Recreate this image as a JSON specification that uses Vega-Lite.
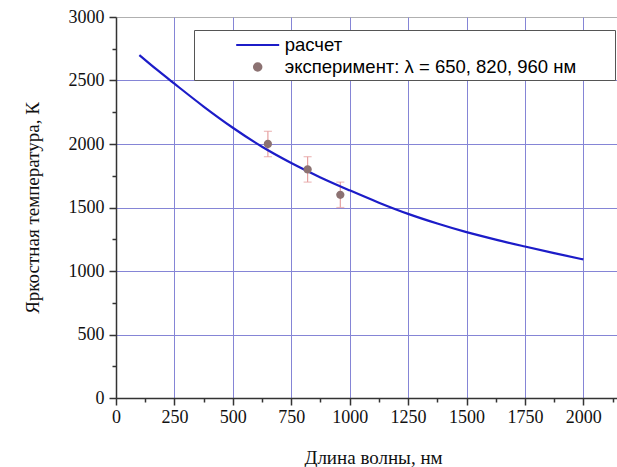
{
  "$schema": "https://vega.github.io/schema/vega-lite/v6.json",
  "width": 501,
  "height": 381,
  "autosize": "none",
  "padding": {"left": 116, "top": 17, "right": 0, "bottom": 69},
  "background": "white",
  "config": {
    "view": {"stroke": "#b0b0b0", "strokeWidth": 1},
    "legend": {
      "padding": 3, "rowPadding": 0, "symbolSize": 462, "symbolOffset": 48.7, "labelOffset": 15,
      "symbolStrokeWidth": 1.5,
      "labelFont": "Liberation Sans", "labelFontSize": 18.5, "labelColor": "#000000", "labelLimit": 0,
      "fillColor": "white", "strokeColor": "#555555",
      "titleOrient": "right", "titlePadding": 35, "titleFontSize": 2, "titleOpacity": 0
    }
  },
  "resolve": {"axis": {"x": "independent", "y": "independent"}},
  "datasets": {
    "curve": [
      {"series": "расчет", "lambda": 100, "T": 2700},
      {"series": "расчет", "lambda": 175, "T": 2585},
      {"series": "расчет", "lambda": 250, "T": 2475},
      {"series": "расчет", "lambda": 375, "T": 2295},
      {"series": "расчет", "lambda": 500, "T": 2128},
      {"series": "расчет", "lambda": 625, "T": 1978},
      {"series": "расчет", "lambda": 750, "T": 1850},
      {"series": "расчет", "lambda": 875, "T": 1737},
      {"series": "расчет", "lambda": 1000, "T": 1635},
      {"series": "расчет", "lambda": 1125, "T": 1538},
      {"series": "расчет", "lambda": 1250, "T": 1450},
      {"series": "расчет", "lambda": 1375, "T": 1374},
      {"series": "расчет", "lambda": 1500, "T": 1306},
      {"series": "расчет", "lambda": 1625, "T": 1247},
      {"series": "расчет", "lambda": 1750, "T": 1193},
      {"series": "расчет", "lambda": 1875, "T": 1141},
      {"series": "расчет", "lambda": 2000, "T": 1091}
    ],
    "exp": [
      {"series": "эксперимент: λ = 650, 820, 960 нм", "lambda": 650, "T": 2000, "lo": 1900, "hi": 2100},
      {"series": "эксперимент: λ = 650, 820, 960 нм", "lambda": 820, "T": 1800, "lo": 1700, "hi": 1900},
      {"series": "эксперимент: λ = 650, 820, 960 нм", "lambda": 960, "T": 1600, "lo": 1500, "hi": 1700}
    ]
  },
  "layer": [
    {
      "data": {"name": "exp"},
      "mark": {"type": "errorbar", "color": "#e6a0a0", "thickness": 1.2, "ticks": {"size": 8, "thickness": 1.2}},
      "encoding": {
        "x": {
          "field": "lambda", "type": "quantitative",
          "scale": {"domain": [0, 2144], "nice": false, "zero": false},
          "axis": {
            "orient": "bottom", "title": null,
            "values": [250,500,750,1000,1250,1500,1750,2000],
            "grid": true, "gridColor": "#8585d6", "gridWidth": 1,
            "ticks": false, "labels": false, "domain": false
          }
        },
        "y": {
          "field": "lo", "type": "quantitative",
          "scale": {"domain": [0, 3000], "nice": false},
          "axis": {
            "orient": "left", "title": null,
            "values": [500,1000,1500,2000,2500],
            "grid": true, "gridColor": "#8585d6", "gridWidth": 1,
            "ticks": false, "labels": false, "domain": false
          }
        },
        "y2": {"field": "hi"}
      }
    },
    {
      "data": {"name": "curve"},
      "mark": {"type": "line", "interpolate": "monotone", "strokeWidth": 2.2},
      "encoding": {
        "x": {
          "field": "lambda", "type": "quantitative",
          "axis": {
            "orient": "bottom", "title": null,
            "values": [125,375,625,875,1125,1375,1625,1875,2125],
            "grid": false, "labels": false, "domain": false,
            "ticks": true, "tickSize": 4, "tickColor": "#333333", "tickWidth": 1.5
          }
        },
        "y": {
          "field": "T", "type": "quantitative",
          "axis": {
            "orient": "left", "title": null,
            "values": [250,750,1250,1750,2250,2750],
            "grid": false, "labels": false, "domain": false,
            "ticks": true, "tickSize": 4, "tickColor": "#333333", "tickWidth": 1.5
          }
        },
        "color": {
          "field": "series", "type": "nominal",
          "scale": {"domain": ["расчет", "эксперимент: λ = 650, 820, 960 нм"], "range": ["#1c1cc8", "#8c7272"]},
          "legend": {
            "orient": "none", "legendX": 78, "legendY": 13, "title": ".",
            "encode": {"symbols": {"update": {
              "fill": [{"test": "datum.value === 'расчет'", "value": "transparent"}, {"value": "#8c7272"}],
              "stroke": [{"test": "datum.value === 'расчет'", "value": "#1c1cc8"}, {"value": "transparent"}],
              "strokeWidth": {"value": 2.2},
              "opacity": {"value": 1}
            }}}
          }
        }
      }
    },
    {
      "data": {"name": "exp"},
      "mark": {"type": "point", "filled": true, "opacity": 1, "size": 596},
      "encoding": {
        "x": {
          "field": "lambda", "type": "quantitative", "title": "Длина волны, нм",
          "axis": {
            "orient": "bottom",
            "values": [0,250,500,750,1000,1250,1500,1750,2000],
            "format": "d", "grid": false,
            "tickSize": 7, "tickColor": "#333333", "tickWidth": 1.5,
            "domainColor": "#333333", "domainWidth": 1.5,
            "labelFont": "Liberation Serif", "labelFontSize": 18, "labelColor": "#111111",
            "labelPadding": 3, "labelFlush": false, "labelOverlap": false,
            "titleFont": "Liberation Serif", "titleFontSize": 19, "titleFontWeight": "normal", "titleColor": "#111111",
            "titleX": 257, "titleY": 65, "titleBaseline": "alphabetic"
          }
        },
        "y": {
          "field": "T", "type": "quantitative", "title": "Яркостная температура, К",
          "axis": {
            "orient": "left",
            "values": [0,500,1000,1500,2000,2500,3000],
            "format": "d", "grid": false,
            "tickSize": 7, "tickColor": "#333333", "tickWidth": 1.5,
            "domainColor": "#333333", "domainWidth": 1.5,
            "labelFont": "Liberation Serif", "labelFontSize": 18, "labelColor": "#111111",
            "labelPadding": 5, "labelFlush": false, "labelOverlap": false,
            "titleFont": "Liberation Serif", "titleFontSize": 19, "titleFontWeight": "normal", "titleColor": "#111111",
            "titleX": -84, "titleBaseline": "middle"
          }
        },
        "color": {
          "field": "series", "type": "nominal",
          "scale": {"domain": ["расчет", "эксперимент: λ = 650, 820, 960 нм"], "range": ["#1c1cc8", "#8c7272"]},
          "legend": {
            "orient": "none", "legendX": 78, "legendY": 13, "title": ".",
            "encode": {"symbols": {"update": {
              "fill": [{"test": "datum.value === 'расчет'", "value": "transparent"}, {"value": "#8c7272"}],
              "stroke": [{"test": "datum.value === 'расчет'", "value": "#1c1cc8"}, {"value": "transparent"}],
              "strokeWidth": {"value": 2.2},
              "opacity": {"value": 1}
            }}}
          }
        },
        "shape": {
          "field": "series", "type": "nominal",
          "scale": {"domain": ["расчет", "эксперимент: λ = 650, 820, 960 нм"], "range": ["M-2,0H2", "M-0.34,0A0.34,0.34,0,1,0,0.34,0A0.34,0.34,0,1,0,-0.34,0Z"]},
          "legend": {
            "orient": "none", "legendX": 78, "legendY": 13, "title": ".",
            "encode": {"symbols": {"update": {
              "fill": [{"test": "datum.value === 'расчет'", "value": "transparent"}, {"value": "#8c7272"}],
              "stroke": [{"test": "datum.value === 'расчет'", "value": "#1c1cc8"}, {"value": "transparent"}],
              "strokeWidth": {"value": 2.2},
              "opacity": {"value": 1}
            }}}
          }
        }
      }
    }
  ]
}
